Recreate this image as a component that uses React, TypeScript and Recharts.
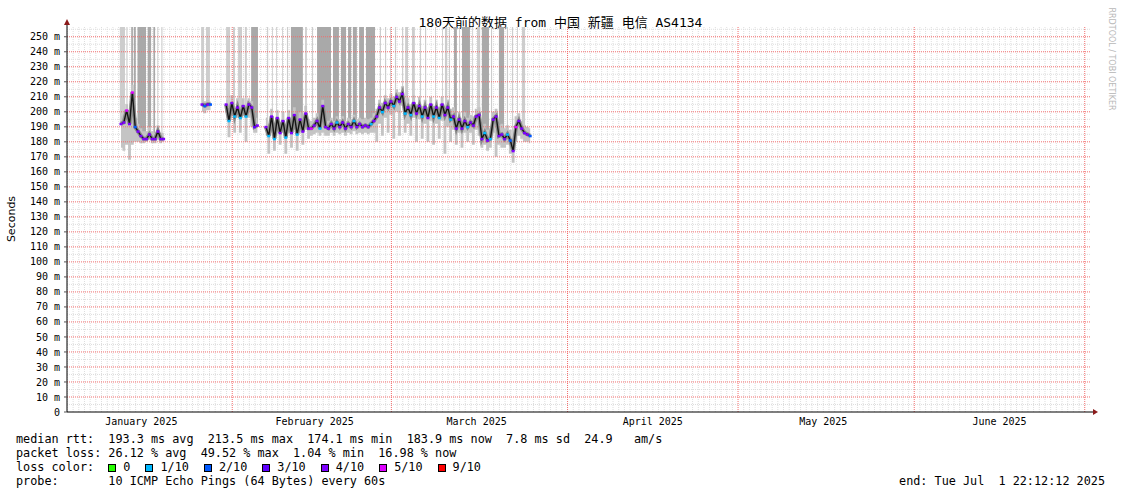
import React from "react";
import { ComposedChart, Area, Line, XAxis, YAxis, CartesianGrid, ReferenceLine } from "recharts";

// time axis: days since the graph start (Jan 2 2025 22:12), 180 days shown
const STEP = 0.5;
const TOP = 256.5;

const monthTicks = [13.075, 43.575, 72.075, 103.075, 133.075, 164.075];
const monthLabels = ["January 2025", "February 2025", "March 2025", "April 2025", "May 2025", "June 2025"];
const monthStarts = [29.075, 57.075, 88.075, 118.075, 149.075, 179.075];
const yTicks = [0, 10, 20, 30, 40, 50, 60, 70, 80, 90, 100, 110, 120, 130, 140, 150, 160, 170, 180, 190, 200, 210, 220, 230, 240, 250];

const lossColors: Record<number, string> = {
  0: "#26ff00", 1: "#00b8ff", 2: "#0059ff", 3: "#5e00ff", 4: "#7e00ff", 5: "#dd00ff", 9: "#ff0000",
};

// segment 1
const seg1Start = 9.5;
const seg1Median = [192, 193, 201, 192, 213, 190, 187, 184, 182, 182, 185, 182, 182, 187, 182, 182];
const seg1Lo = [176, 174, 178, 168, 178, 180, 180, 179, 179, 180, 181, 179, 179, 181, 179, 180];
const seg1Hi = [197, 198, 205, 197, 218, 196, 192, 189, 187, 187, 190, 187, 186, 191, 186, 186];
const seg1Loss = [4, 4, 5, 4, 5, 2, 4, 4, 4, 4, 4, 4, 4, 4, 4, 4];

// segment 2
const seg2Start = 23.75;
const seg2Median = [205, 204, 205, 205];
const seg2Lo = [200, 199, 201, 201];
const seg2Hi = [208, 207, 208, 207];
const seg2Loss = [4, 2, 4, 2];

// segment 3
const seg3Start = 28;
const seg3Median = [205, 194, 206, 197, 203, 196, 204, 197, 205, 203, 190, 191];
const seg3Lo = [198, 183, 198, 186, 196, 186, 197, 180, 196, 190, 186, 186];
const seg3Hi = [208, 200, 211, 202, 209, 201, 209, 203, 209, 207, 194, 196];
const seg3Loss = [4, 1, 4, 1, 4, 1, 4, 1, 4, 4, 3, 4];

// segment 4
const seg4Start = 35;
const seg4Median = [
  190, 184, 197, 182, 196, 186, 194, 183, 196, 186,
  198, 185, 195, 187, 199, 189, 189, 191, 194, 189,
  204, 190, 189, 192, 189, 193, 190, 193, 189, 192,
  190, 194, 190, 192, 190, 191, 190, 192, 194, 197,
  203, 200, 206, 203, 207, 204, 210, 207, 212, 199,
  203, 198, 206, 199, 204, 197, 203, 196, 205, 197,
  203, 196, 205, 198, 203, 195, 197, 189, 195, 189,
  194, 190, 193, 191, 197, 198, 182, 186, 181, 182,
  195, 197, 184, 185, 182, 185, 181, 174, 190, 194,
  189, 186, 185, 184,
];
const seg4Lo = [
  184, 172, 186, 174, 186, 178, 186, 172, 186, 176,
  188, 174, 186, 178, 188, 182, 184, 185, 186, 184,
  186, 184, 184, 186, 184, 186, 185, 186, 184, 186,
  185, 187, 185, 186, 185, 186, 185, 186, 186, 180,
  192, 184, 196, 186, 198, 182, 200, 184, 204, 186,
  192, 184, 196, 180, 195, 182, 192, 180, 194, 178,
  192, 182, 194, 172, 190, 180, 188, 178, 186, 176,
  186, 180, 186, 178, 188, 184, 176, 178, 174, 176,
  186, 170, 178, 176, 176, 178, 172, 166, 180, 184,
  182, 180, 180, 179,
];
const seg4Hi = [
  196, 192, 202, 190, 201, 193, 200, 190, 201, 193,
  203, 192, 200, 193, 204, 195, 194, 196, 199, 194,
  208, 195, 194, 196, 194, 197, 195, 197, 194, 196,
  195, 198, 195, 196, 195, 196, 195, 196, 199, 202,
  208, 206, 211, 209, 212, 210, 215, 213, 217, 206,
  209, 205, 211, 205, 210, 204, 208, 203, 210, 204,
  208, 203, 210, 204, 208, 202, 203, 196, 200, 196,
  200, 196, 198, 197, 202, 203, 190, 192, 188, 189,
  200, 202, 191, 192, 189, 191, 188, 182, 197, 199,
  194, 191, 190, 189,
];
const seg4Loss = [
  4, 1, 4, 1, 4, 4, 4, 1, 4, 4, 4, 1, 4, 4, 4, 4,
  5, 4, 4, 1, 4, 4, 4, 4, 4, 1, 4, 4, 4, 4, 4, 1, 4, 4, 4, 4, 4, 1, 4, 4,
  4, 1, 4, 4, 4, 1, 4, 4, 4, 1, 4, 1, 4, 4, 4, 1, 4, 4, 4, 1,
  4, 1, 4, 4, 4, 1, 4, 4, 4, 4, 4, 1, 4, 4, 4, 4, 4, 1, 4, 1, 4, 4, 4, 4, 4, 1, 2, 4, 5, 4, 4, 4, 4, 2,
];

// smoke columns reaching past the top: [start day, end day, base ms, shade 0 light / 1 dark]
const lossSpikes: [number, number, number, number][] = [
  [9.3, 10.2, 192, 0], [10.45, 10.65, 195, 0], [11.3, 11.6, 200, 1], [11.75, 12.1, 190, 1],
  [12.4, 13.9, 185, 1], [14.2, 14.8, 185, 1], [15.2, 15.5, 184, 1], [15.9, 16.05, 185, 0], [16.6, 16.8, 184, 0],
  [23.6, 24.1, 205, 0], [24.45, 25.15, 205, 0],
  [28.0, 28.7, 203, 0], [29.2, 29.55, 203, 0], [30.1, 30.8, 202, 0], [31.3, 31.65, 202, 0], [32.4, 33.6, 192, 1],
  [35.2, 35.4, 190, 0], [36.1, 36.25, 190, 0], [36.8, 36.95, 190, 0], [37.85, 38.0, 190, 0], [38.7, 38.9, 190, 0],
  [39.4, 41.5, 190, 1], [41.9, 42.2, 192, 0], [43.1, 43.3, 190, 0], [44.0, 46.45, 190, 1], [46.8, 47.85, 190, 1],
  [48.2, 49.1, 190, 1], [49.45, 50.0, 190, 1], [50.3, 51.0, 190, 1], [51.4, 52.25, 190, 1], [52.6, 54.2, 190, 1],
  [55.05, 55.25, 200, 0], [55.95, 56.15, 203, 0], [56.85, 57.0, 204, 0], [57.7, 57.9, 206, 0], [58.95, 59.15, 208, 0],
  [59.5, 60.0, 200, 0], [60.7, 61.2, 200, 0], [62.1, 62.3, 200, 0], [63.0, 63.2, 200, 0], [64.75, 64.9, 200, 0],
  [66.0, 66.15, 200, 0], [66.5, 66.9, 200, 0], [67.2, 67.4, 196, 0], [68.1, 68.6, 192, 1], [69.0, 69.15, 192, 0],
  [69.5, 70.9, 192, 1], [71.3, 71.45, 192, 0], [72.15, 72.7, 195, 0], [73.0, 74.25, 184, 1], [74.6, 74.8, 184, 0],
  [76.0, 76.9, 185, 1], [77.4, 77.6, 183, 0], [78.3, 78.5, 180, 0], [79.2, 79.35, 190, 0], [80.05, 80.6, 187, 0],
];

const medianStats = "median rtt:  193.3 ms avg  213.5 ms max  174.1 ms min  183.9 ms now  7.8 ms sd  24.9   am/s";
const lossStats = "packet loss: 26.12 % avg  49.52 % max  1.04 % min  16.98 % now";
const lossLegend: [string, number][] = [["0", 0], ["1/10", 1], ["2/10", 2], ["3/10", 3], ["4/10", 4], ["5/10", 5], ["9/10", 9]];
const probeText = "probe:       10 ICMP Echo Pings (64 Bytes) every 60s";
const endText = "end: Tue Jul  1 22:12:12 2025";
const title = "180天前的数据 from 中国 新疆 电信 AS4134";

type Pt = { t: number; med: number | null; band: [number, number] | null; loss: number | null };

function segment(start: number, med: number[], lo: number[], hi: number[], loss: number[]): Pt[] {
  return med.map((m, i) => ({ t: start + i * STEP, med: m, band: [lo[i], hi[i]], loss: loss[i] }));
}
const gap = (t: number): Pt => ({ t, med: null, band: null, loss: null });

const rttData: Pt[] = [
  ...segment(seg1Start, seg1Median, seg1Lo, seg1Hi, seg1Loss),
  gap(20),
  ...segment(seg2Start, seg2Median, seg2Lo, seg2Hi, seg2Loss),
  gap(26.5),
  ...segment(seg3Start, seg3Median, seg3Lo, seg3Hi, seg3Loss),
  gap(34.2),
  ...segment(seg4Start, seg4Median, seg4Lo, seg4Hi, seg4Loss),
];

const spikeData = (shade: number) =>
  lossSpikes
    .filter((s) => s[3] === shade)
    .flatMap(([s, e, b]) => [
      { t: s, r: [b, TOP] },
      { t: e, r: [b, TOP] },
      { t: e, r: null },
    ]);

const minorH = yTicks.map((v) => v + 5).filter((v) => v < TOP);
const majorH = yTicks.filter((v) => v > 0);
const dayLines = Array.from({ length: 180 }, (_, k) => 0.075 + k).filter(
  (d) => !monthStarts.some((m) => Math.abs(m - d) < 0.01)
);

const mono = '"DejaVu Sans Mono", "Noto Sans CJK SC", monospace';
const RED_GRID = "#f26d6d";

const LossDot = (props: any) => {
  const { cx, cy, payload, index } = props;
  if (cx == null || cy == null || payload == null || payload.loss == null) return <g key={index} />;
  return <rect key={index} x={cx - 1.5} y={cy - 1} width={3} height={2.5} fill={lossColors[payload.loss]} />;
};

export default function App() {
  return (
    <div style={{ position: "absolute", left: 0, top: 0, width: 1121, height: 494, background: "#fff", overflow: "hidden" }}>
      <div style={{ position: "absolute", left: 0, top: 12, width: 1121, textAlign: "center", fontFamily: mono, fontSize: 13, color: "#000" }}>
        {title}
      </div>
      <div style={{ position: "absolute", left: 11, top: 219, transform: "translate(-50%, -50%) rotate(-90deg)", fontFamily: '"DejaVu Sans", sans-serif', fontSize: 11, whiteSpace: "nowrap" }}>
        Seconds
      </div>
      <div style={{ position: "absolute", left: 1111, top: 59, transform: "translate(-50%, -50%) rotate(90deg)", fontFamily: '"DejaVu Sans", sans-serif', fontSize: 8, color: "#b8b8b8", whiteSpace: "nowrap" }}>
        RRDTOOL / TOBI OETIKER
      </div>
      <ComposedChart width={1121} height={494} margin={{ top: 27, right: 31, bottom: 62, left: 0 }}>
        <CartesianGrid horizontalValues={minorH} verticalValues={dayLines} stroke="#dedede" strokeDasharray="1 1" />
        {majorH.map((v) => (
          <ReferenceLine key={`h${v}`} y={v} stroke={RED_GRID} strokeDasharray="1 1" />
        ))}
        {monthStarts.map((d) => (
          <ReferenceLine key={`v${d}`} x={d} stroke={RED_GRID} strokeDasharray="1 1" />
        ))}
        <XAxis
          dataKey="t"
          type="number"
          domain={[0, 180]}
          allowDataOverflow
          ticks={monthTicks}
          interval={0}
          tickFormatter={(v: number) => monthLabels[monthTicks.indexOf(v)] ?? ""}
          tickLine={false}
          tickSize={3}
          tickMargin={3}
          height={20}
          axisLine={{ stroke: "#000" }}
          tick={{ fontSize: 10, fontFamily: mono, fill: "#000" }}
        />
        <YAxis
          type="number"
          domain={[0, TOP]}
          allowDataOverflow
          ticks={yTicks}
          interval={0}
          tickFormatter={(v: number) => (v === 0 ? "0" : `${v} m`)}
          width={67}
          tickSize={3}
          tickMargin={4}
          tickLine={{ stroke: "#555" }}
          axisLine={{ stroke: "#000" }}
          tick={{ fontSize: 10, fontFamily: mono, fill: "#000" }}
        />
        <Area data={spikeData(0)} dataKey="r" type="linear" stroke="none" fill="#cdcdcd" fillOpacity={1} isAnimationActive={false} dot={false} activeDot={false} />
        <Area data={spikeData(1)} dataKey="r" type="linear" stroke="none" fill="#a9a9a9" fillOpacity={1} isAnimationActive={false} dot={false} activeDot={false} />
        <Area data={rttData} dataKey="band" type="step" stroke="none" fill="#c4c4c4" fillOpacity={1} isAnimationActive={false} dot={false} activeDot={false} />
        <Line data={rttData} dataKey="med" type="linear" stroke="#8a8a8a" strokeWidth={4} dot={false} activeDot={false} isAnimationActive={false} />
        <Line data={rttData} dataKey="med" type="linear" stroke="#151515" strokeWidth={1.4} dot={LossDot} activeDot={false} isAnimationActive={false} />
      </ComposedChart>
      <svg style={{ position: "absolute", left: 0, top: 0 }} width={1121} height={494}>
        <line x1={67} y1={27} x2={67} y2={22} stroke="#000" />
        <polygon points="64,25 70,25 67,19" fill="#8b1a1a" />
        <line x1={1090} y1={412} x2={1093} y2={412} stroke="#000" />
        <polygon points="1093,409 1093,415 1098,412" fill="#8b1a1a" />
      </svg>
      <div style={{ position: "absolute", left: 16, top: 432, fontFamily: mono, fontSize: 11.8, lineHeight: "14px", whiteSpace: "pre", color: "#000" }}>
        <div>{medianStats}</div>
        <div>{lossStats}</div>
        <div>
          {"loss color:  "}
          {lossLegend.map(([label, key]) => (
            <span key={label}>
              <span style={{ display: "inline-block", width: 8, height: 8, boxSizing: "border-box", border: "1px solid #000", background: lossColors[key], marginRight: 7, verticalAlign: "middle" }} />
              <span style={{ marginRight: 15 }}>{label}</span>
            </span>
          ))}
        </div>
        <div>{probeText}</div>
      </div>
      <div style={{ position: "absolute", right: 16, top: 474, fontFamily: mono, fontSize: 11.8, lineHeight: "14px", whiteSpace: "pre", color: "#000" }}>
        {endText}
      </div>
    </div>
  );
}
